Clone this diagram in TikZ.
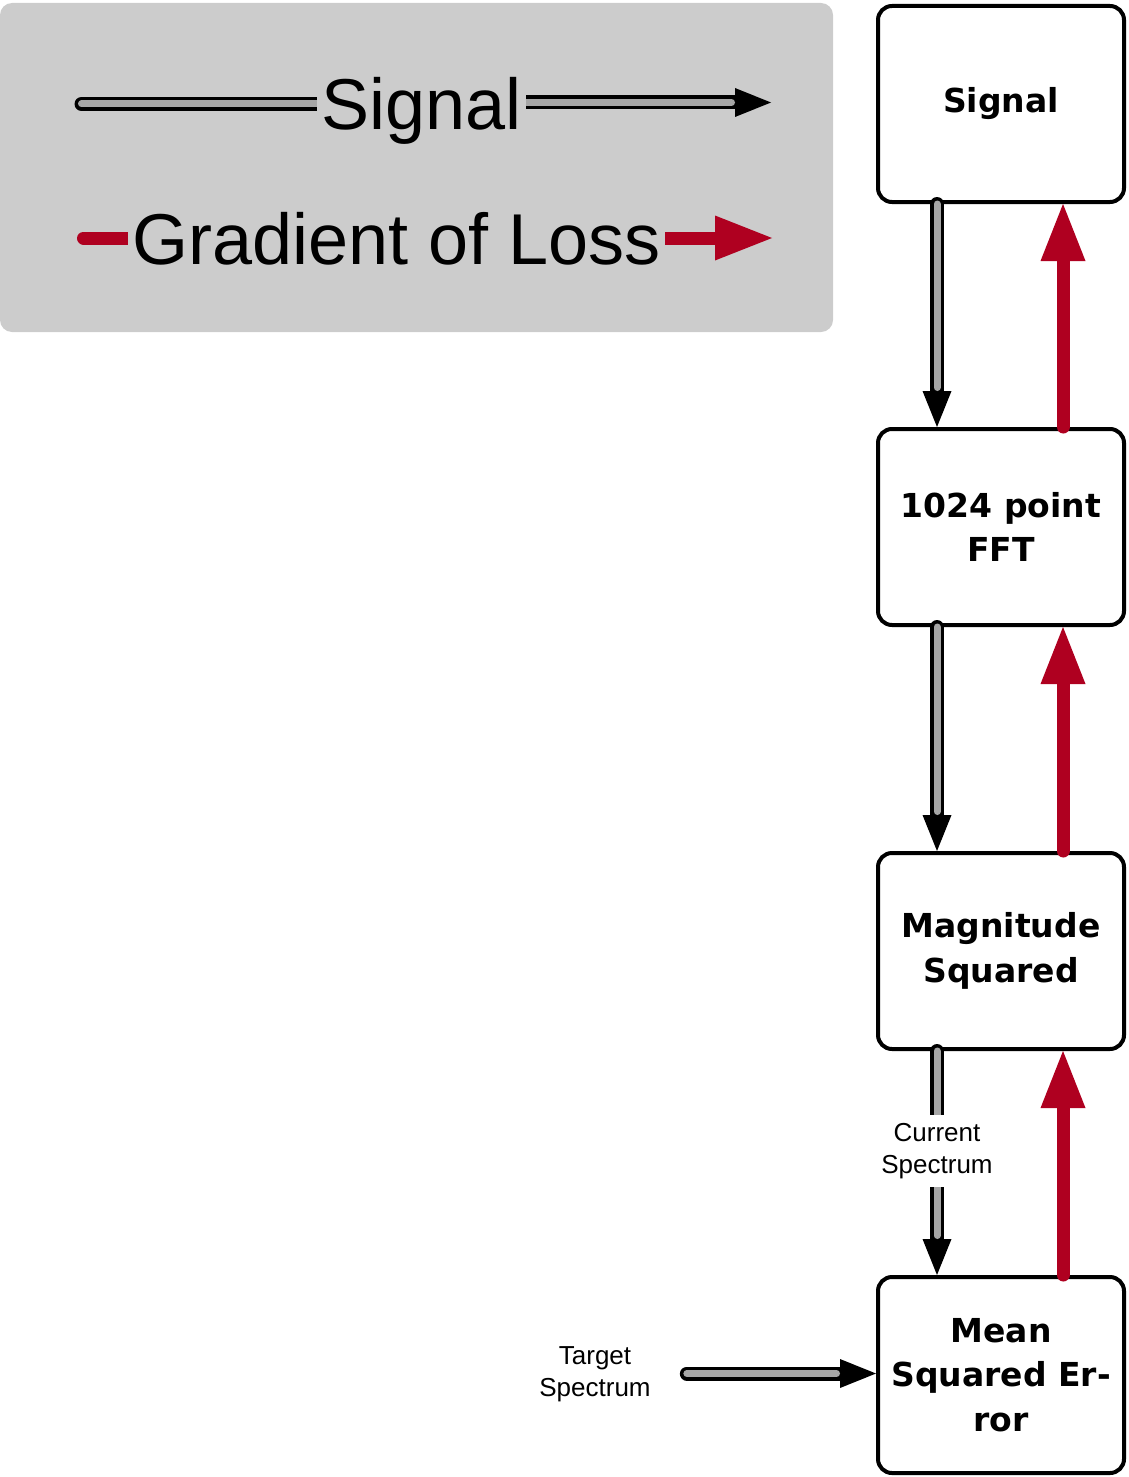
\documentclass[tikz,border=0pt]{standalone}
\usepackage{fontspec}
\setmainfont{Liberation Sans}
\newfontfamily\boxfont{DejaVu Sans}
\usetikzlibrary{arrows.meta,calc}
\definecolor{legendgray}{HTML}{CCCCCC}
\definecolor{siggray}{HTML}{A6A6A6}
\definecolor{gradred}{HTML}{AF0020}
\pgfdeclarelayer{bg}
\pgfdeclarelayer{mid}
\pgfsetlayers{bg,mid,main}
\tikzset{
  blk/.style={draw, line width=4pt, rounded corners=14pt, minimum width=246pt,
    minimum height=196pt, fill=white, align=center, inner sep=0pt,
    font=\boxfont\fontsize{33}{44.5}\selectfont\bfseries},
  sigarrow/.style={line width=14pt, black, line cap=round,
    -{Triangle[length=36pt,width=29pt,line width=0pt]},
    postaction={draw=siggray, line width=7pt, -, line cap=round, shorten >=39.5pt}},
  sigline/.style={line width=14pt, black, line cap=round,
    postaction={draw=siggray, line width=7pt, line cap=round}},
  redarrow/.style={line width=13pt, gradred, line cap=round,
    -{Triangle[length=57pt,width=45pt,line width=0pt]}},
  redline/.style={line width=13pt, gradred, line cap=round},
  legtxt/.style={fill=legendgray, inner xsep=4.5pt, inner ysep=2pt,
    font=\fontsize{72}{80}\selectfont},
  lbl/.style={fill=white, align=center, inner xsep=2pt, inner ysep=8pt,
    font=\fontsize{26}{32}\selectfont},
  tlbl/.style={align=center, inner xsep=2pt, inner ysep=3pt,
    font=\fontsize{26}{32}\selectfont}
}
\begin{document}
\begin{tikzpicture}[x=1pt,y=-1pt]
\useasboundingbox (0,0) rectangle (1128,1477);
% legend
\begin{pgfonlayer}{bg}
\fill[legendgray, rounded corners=12pt] (0,3) rectangle (833,332);
\end{pgfonlayer}
\node[legtxt, anchor=base] (lsig) at (421.5,129) {Signal};
\node[legtxt, anchor=base] (lgrad) at (396.5,264) {Gradient of Loss};
\coordinate (l1) at (81.5,104);
\coordinate (r1) at (771,102.5);
\coordinate (g1) at (83.5,238);
\coordinate (g2) at (772,238);
\begin{pgfonlayer}{mid}
\draw[sigline] (l1) -- (l1 -| lsig.center);
\draw[sigarrow] (lsig.center |- r1) -- (r1);
\draw[redline] (g1) -- (g1 -| lgrad.center);
\draw[redarrow] (lgrad.center |- g2) -- (g2);
\end{pgfonlayer}
% boxes
\node[blk] (sig) at (1001,104) {Signal};
\node[blk] (fft) at (1001,527) {1024 point\\FFT};
\node[blk] (mag) at (1001,951) {Magnitude\\Squared};
\node[blk] (mse) at (1001,1375) {Mean\\Squared Er-\\ror};
\node[tlbl] (tgt) at (595,1374.4) {Target\\Spectrum};
% forward signal
\draw[sigarrow] ([xshift=-64pt]sig.south) -- ([xshift=-64pt]fft.north);
\draw[sigarrow] ([xshift=-64pt]fft.south) -- ([xshift=-64pt]mag.north);
\draw[sigarrow] ([xshift=-64pt]mag.south) -- node[lbl, pos=0.447] (cur) {Current\\Spectrum} ([xshift=-64pt]mse.north);
\draw[sigarrow] ($(tgt.east |- mse.west)+(34,-1.5)$) -- ($(mse.west)+(0,-1.5)$);
% gradient
\draw[redarrow] ([xshift=62pt]fft.north) -- ([xshift=62pt]sig.south);
\draw[redarrow] ([xshift=62pt]mag.north) -- ([xshift=62pt]fft.south);
\draw[redarrow] ([xshift=62pt]mse.north) -- ([xshift=62pt]mag.south);
\end{tikzpicture}
\end{document}
